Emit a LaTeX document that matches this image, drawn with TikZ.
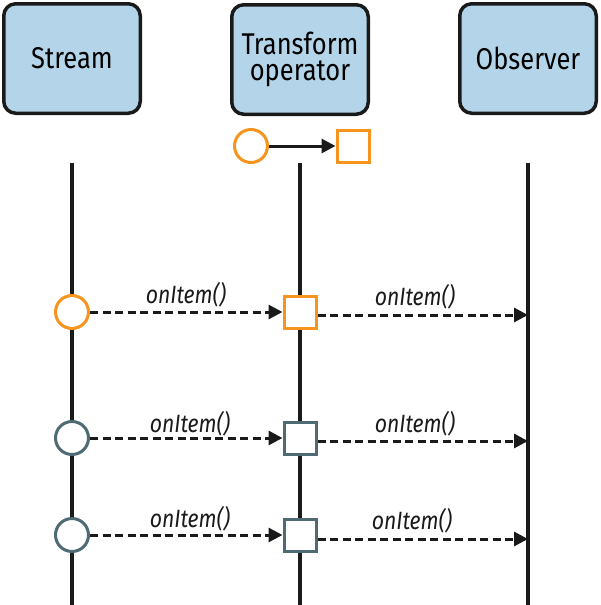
\documentclass[tikz,border=0pt]{standalone}
\usepackage{fontspec}
\setmainfont[FakeStretch=0.85]{Fira Sans}
\usetikzlibrary{arrows.meta}
\definecolor{boxfill}{HTML}{B4D5E9}
\definecolor{orng}{HTML}{F7941D}
\definecolor{slate}{HTML}{4E6B73}
\definecolor{ink}{HTML}{1A1A1A}
\begin{document}
\begin{tikzpicture}[x=1pt,y=-1pt,
 actor/.style={draw=ink, line width=3.5pt, fill=boxfill, rounded corners=12pt, minimum width=136.5pt, minimum height=109.5pt, align=center, inner sep=0pt, font=\fontsize{30}{26.5}\selectfont},
 life/.style={line width=3.2pt, draw=ink},
 msg/.style={line width=3pt, draw=ink, dash pattern=on 8pt off 4.5pt, -{Triangle[length=14pt,width=14pt]}},
 solidmsg/.style={line width=3pt, draw=ink, -{Triangle[length=14pt,width=14pt]}},
 circ/.style={circle, line width=3pt, minimum size=33pt, inner sep=0pt, fill=white},
 sq/.style={rectangle, line width=3pt, minimum size=32pt, inner sep=0pt, fill=white},
 lbl/.style={font=\itshape\fontsize{25}{25}\selectfont, text=ink, inner sep=0pt}]
\useasboundingbox (0,0) rectangle (600,605);
% actors
\node[actor] (stream) at (72,58.5) {Stream};
\node[actor] (trans) at (300,59.5) {Transform\\operator};
\node[actor] (obs) at (528,58.5) {Observer};
% lifelines
\coordinate (st) at (72,163); \coordinate (sb) at (72,605);
\coordinate (tt) at (300,163); \coordinate (tb) at (300,605);
\coordinate (ot) at (528,163); \coordinate (ob) at (528,605);
\draw[life] (st) -- (sb);
\draw[life] (tt) -- (tb);
\draw[life] (ot) -- (ob);
% transform legend
\node[circ, draw=orng] (lc) at (251,146) {};
\node[sq, draw=orng] (ls) at (353,146) {};
\draw[solidmsg] (lc) -- (ls);
% row 1
\node[circ, draw=orng] (c1) at (72,312) {};
\node[sq, draw=orng] (s1) at (300,312) {};
\coordinate (o1) at (528,315);
\draw[msg] (c1) -- (s1);
\draw[msg] (s1.east |- o1) -- (o1);
\node[lbl] (l1a) at (186,295) {onItem()};
\node[lbl] (l1b) at (415,297) {onItem()};
% row 2
\node[circ, draw=slate] (c2) at (72,438) {};
\node[sq, draw=slate] (s2) at (300,438) {};
\coordinate (o2) at (528,441);
\draw[msg] (c2) -- (s2);
\draw[msg] (s2.east |- o2) -- (o2);
\node[lbl] (l2a) at (190,424) {onItem()};
\node[lbl] (l2b) at (415,424) {onItem()};
% row 3
\node[circ, draw=slate] (c3) at (72,535) {};
\node[sq, draw=slate] (s3) at (300,535) {};
\coordinate (o3) at (528,539);
\draw[msg] (c3) -- (s3);
\draw[msg] (s3.east |- o3) -- (o3);
\node[lbl] (l3a) at (190,519) {onItem()};
\node[lbl] (l3b) at (412,521) {onItem()};
\end{tikzpicture}
\end{document}
